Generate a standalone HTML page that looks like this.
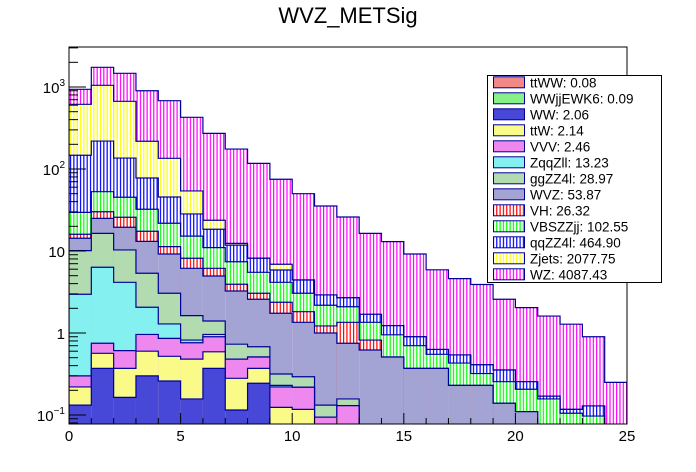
<!DOCTYPE html>
<html><head><meta charset="utf-8"><style>
html,body{margin:0;padding:0;background:#fff;}
svg{display:block;font-family:"Liberation Sans",sans-serif;}
</style></head><body>
<svg id="chart" width="696" height="472" viewBox="0 0 696 472">
<defs>
<pattern id="pv-WZ" patternUnits="userSpaceOnUse" width="3.33" height="4"><rect width="3.33" height="4" fill="#fff"/><rect width="1.2" height="4" fill="#ff00ff"/></pattern>
<pattern id="pv-Zjets" patternUnits="userSpaceOnUse" width="3.33" height="4"><rect width="3.33" height="4" fill="#fff"/><rect width="1.2" height="4" fill="#ffff00"/></pattern>
<pattern id="pv-qqZZ" patternUnits="userSpaceOnUse" width="3.33" height="4"><rect width="3.33" height="4" fill="#fff"/><rect width="1.2" height="4" fill="#0000ff"/></pattern>
<pattern id="pv-VBS" patternUnits="userSpaceOnUse" width="3.33" height="4"><rect width="3.33" height="4" fill="#fff"/><rect width="1.2" height="4" fill="#00ff00"/></pattern>
<pattern id="pv-VH" patternUnits="userSpaceOnUse" width="3.33" height="4"><rect width="3.33" height="4" fill="#fff"/><rect width="1.2" height="4" fill="#ff0000"/></pattern>
<clipPath id="plotclip"><rect x="69" y="47" width="558" height="377"/></clipPath>
</defs>
<text x="348" y="23" font-size="22" text-anchor="middle" fill="#000">WVZ_METSig</text>
<rect x="69" y="47" width="558" height="377" fill="#fff"/>
<g id="bars" clip-path="url(#plotclip)"></g>
<g id="axes"></g>
<g id="legend"></g>
</svg>
<script>
// bin edges: 0..25, width 1
const binLow = [0,1,2,3,4,5,6,7,8,9,10,11,12,13,14,15,16,17,18,19,20,21,22,23,24];
// cumulative stack heights (top of each component), per bin
const stackWZ    = [937,1738,1469,901,681,427,272,175,117,75,50,35.4,26,16.4,13,9.2,5.9,4.6,3.9,2.58,2.04,1.61,1.28,0.90,0.25];
const stackZjets = [615,1049,669,218,135,54,23.7,12.4,8.15,6.9,4.43,2.91,2.69,1.69,1.23,0.90,0.63,0.54,0.41,0.354,0.255,0.17,0.117,0.129,0];
const stackQqZZ  = [147,219,136,77.6,45.6,28.3,18.4,11.8,8.15,5.87,4.43,2.91,2.69,1.69,1.23,0.90,0.63,0.54,0.41,0.354,0.255,0.17,0.117,0.129,0];
const stackVBS   = [29.6,52.9,45.2,32.3,21.8,15.2,11,7.4,5.5,4.15,3.05,2.18,2.09,1.35,0.95,0.70,0.55,0.43,0.32,0.255,0.206,0.157,0.105,0.097,0];
const stackVH    = [16,30.1,25.8,17.4,11.3,8.15,6.15,3.93,3.05,2.37,1.82,1.22,1.35,0.82,0.51,0.37,0.37,0.23,0.23,0.139,0.11,0.07,0.05,0.05,0];
const stackWVZ   = [14.3,25,19.5,13.1,9.2,6.15,4.96,3.25,2.58,1.74,1.35,1.0,0.75,0.62,0.51,0.37,0.37,0.23,0.23,0.139,0.11,0.07,0.05,0.05,0];
const stackGgZZ  = [10.1,16.4,10.3,5.35,3.05,1.63,1.40,0.73,0.68,0.316,0.293,0.132,0.157,0,0,0,0,0,0,0,0,0,0,0,0];
const stackZqqZll= [2.97,6.33,4.15,2.06,1.29,0.82,0.96,0.48,0.51,0.23,0.218,0.094,0.13,0,0,0,0,0,0,0,0,0,0,0,0];
const stackVVV   = [0.30,0.75,0.61,0.96,0.86,0.76,0.90,0.48,0.51,0.22,0.218,0.094,0.13,0,0,0,0,0,0,0,0,0,0,0,0];
const stackTtW   = [0.22,0.565,0.37,0.60,0.52,0.48,0.59,0.28,0.37,0.124,0.117,0,0,0,0,0,0,0,0,0,0,0,0,0,0];
const stackWW    = [0.132,0.37,0.164,0.30,0.26,0.157,0.37,0.115,0.244,0,0,0,0,0,0,0,0,0,0,0,0,0,0,0,0];
const xTicks = [0,5,10,15,20,25];
const yDecades = [-1,0,1,2,3];
const yDecadeLabels = ["10","1","10","10","10"];
const yDecadeSup = ["\u22121","","","2","3"];
const legendLabels = ["ttWW: 0.08","WWjjEWK6: 0.09","WW: 2.06","ttW: 2.14","VVV: 2.46","ZqqZll: 13.23","ggZZ4l: 28.97","WVZ: 53.87","VH: 26.32","VBSZZjj: 102.55","qqZZ4l: 464.90","Zjets: 2077.75","WZ: 4087.43"];

const NS="http://www.w3.org/2000/svg";
const X0=69, X1=627, Y1=333, DEC=82, YBOT=424, YTOP=47, XMAX=25;
function xs(v){return X0+(X1-X0)*v/XMAX;}
function ys(v){ if(v<=0) return YBOT+5; return Math.min(YBOT+5, Y1-DEC*Math.log10(v)); }
function mk(tag,attrs,parent){const e=document.createElementNS(NS,tag);for(const k in attrs)e.setAttribute(k,attrs[k]);parent.appendChild(e);return e;}

const layers = [
 {name:"wz",data:stackWZ,fill:"url(#pv-WZ)"},
 {name:"zjets",data:stackZjets,fill:"url(#pv-Zjets)"},
 {name:"qqzz4l",data:stackQqZZ,fill:"url(#pv-qqZZ)"},
 {name:"vbszzjj",data:stackVBS,fill:"url(#pv-VBS)"},
 {name:"vh",data:stackVH,fill:"url(#pv-VH)"},
 {name:"wvz",data:stackWVZ,fill:"#a4a4d4"},
 {name:"ggzz4l",data:stackGgZZ,fill:"#b2dcb0"},
 {name:"zqqzll",data:stackZqqZll,fill:"#84f0f0"},
 {name:"vvv",data:stackVVV,fill:"#ee88ee"},
 {name:"ttw",data:stackTtW,fill:"#fafa88"},
 {name:"ww",data:stackWW,fill:"#4848d8"}
];
const bars=document.getElementById('bars');
layers.forEach(L=>{
  const g=mk('g',{},bars);
  
  
  L.data.forEach((v,i)=>{
    if(v<=0) return;
    const xa=xs(binLow[i]), xb=xs(binLow[i]+1), y=ys(v);
    const r=mk('rect',{x:xa,y:y,width:xb-xa,height:Math.max(0,YBOT-y),fill:L.fill},g);
    
    
  });
  let d="";
  for(let i=0;i<L.data.length;i++){
    const xa=xs(binLow[i]), xb=xs(binLow[i]+1), y=ys(L.data[i]);
    d += (i===0?"M"+xa+","+YBOT+" L"+xa+","+y:" L"+xa+","+y)+" L"+xb+","+y;
  }
  d+=" L"+X1+","+YBOT;
  const p=mk('path',{d:d,fill:"none",stroke:"#000099","stroke-width":1.2},g);
  
  
});

const ax=document.getElementById('axes');
const fr=mk('rect',{x:X0,y:YTOP,width:X1-X0,height:YBOT-YTOP,fill:"none",stroke:"#000","stroke-width":1},ax);


for(let v=0;v<=25;v++){
  const x=xs(v), len=(v%5===0)?11:6;
  const t=mk('line',{x1:x,y1:YBOT,x2:x,y2:YBOT-len,stroke:"#000","stroke-width":1},ax);
  
  
}
xTicks.forEach(v=>{
  const t=mk('text',{x:xs(v),y:441,"font-size":15,"text-anchor":"middle"},ax);
  t.textContent=String(v);
  
  
});
for(let e=-2;e<=3;e++){
  for(let m=1;m<=9;m++){
    const v=m*Math.pow(10,e), y=ys(v);
    if(y<YTOP||y>YBOT) continue;
    const len=(m===1)?17:9;
    const t=mk('line',{x1:X0,y1:y,x2:X0+len,y2:y,stroke:"#000","stroke-width":1},ax);
    
    
  }
}
yDecades.forEach((e,i)=>{
  const y=ys(Math.pow(10,e));
  const t=mk('text',{x:65,y:y+6,"font-size":15,"text-anchor":"end"},ax);
  t.textContent=yDecadeLabels[i];
  if(yDecadeSup[i]){
    const s=mk('tspan',{"font-size":10,dy:-7},t);
    s.textContent=yDecadeSup[i];
  }
  
  
});

const lg=document.getElementById('legend');
const lb=mk('rect',{x:487.5,y:75.5,width:174,height:207,fill:"#fff",stroke:"#000","stroke-width":1},lg);


const legendFills=["#f08888","#88f088","#4848d8","#fafa88","#ee88ee","#84f0f0","#b2dcb0","#a4a4d4","url(#pv-VH)","url(#pv-VBS)","url(#pv-qqZZ)","url(#pv-Zjets)","url(#pv-WZ)"];
legendLabels.forEach((lab,i)=>{
  const y=82.3+16*i;
  const g=mk('g',{},lg);
  
  
  mk('rect',{x:493.5,y:y-5.5,width:31,height:11,fill:legendFills[i],stroke:"#000099","stroke-width":1},g);
  const t=mk('text',{x:530,y:y+5,"font-size":13.5},g);
  t.textContent=lab;
});
</script>
</body></html>
